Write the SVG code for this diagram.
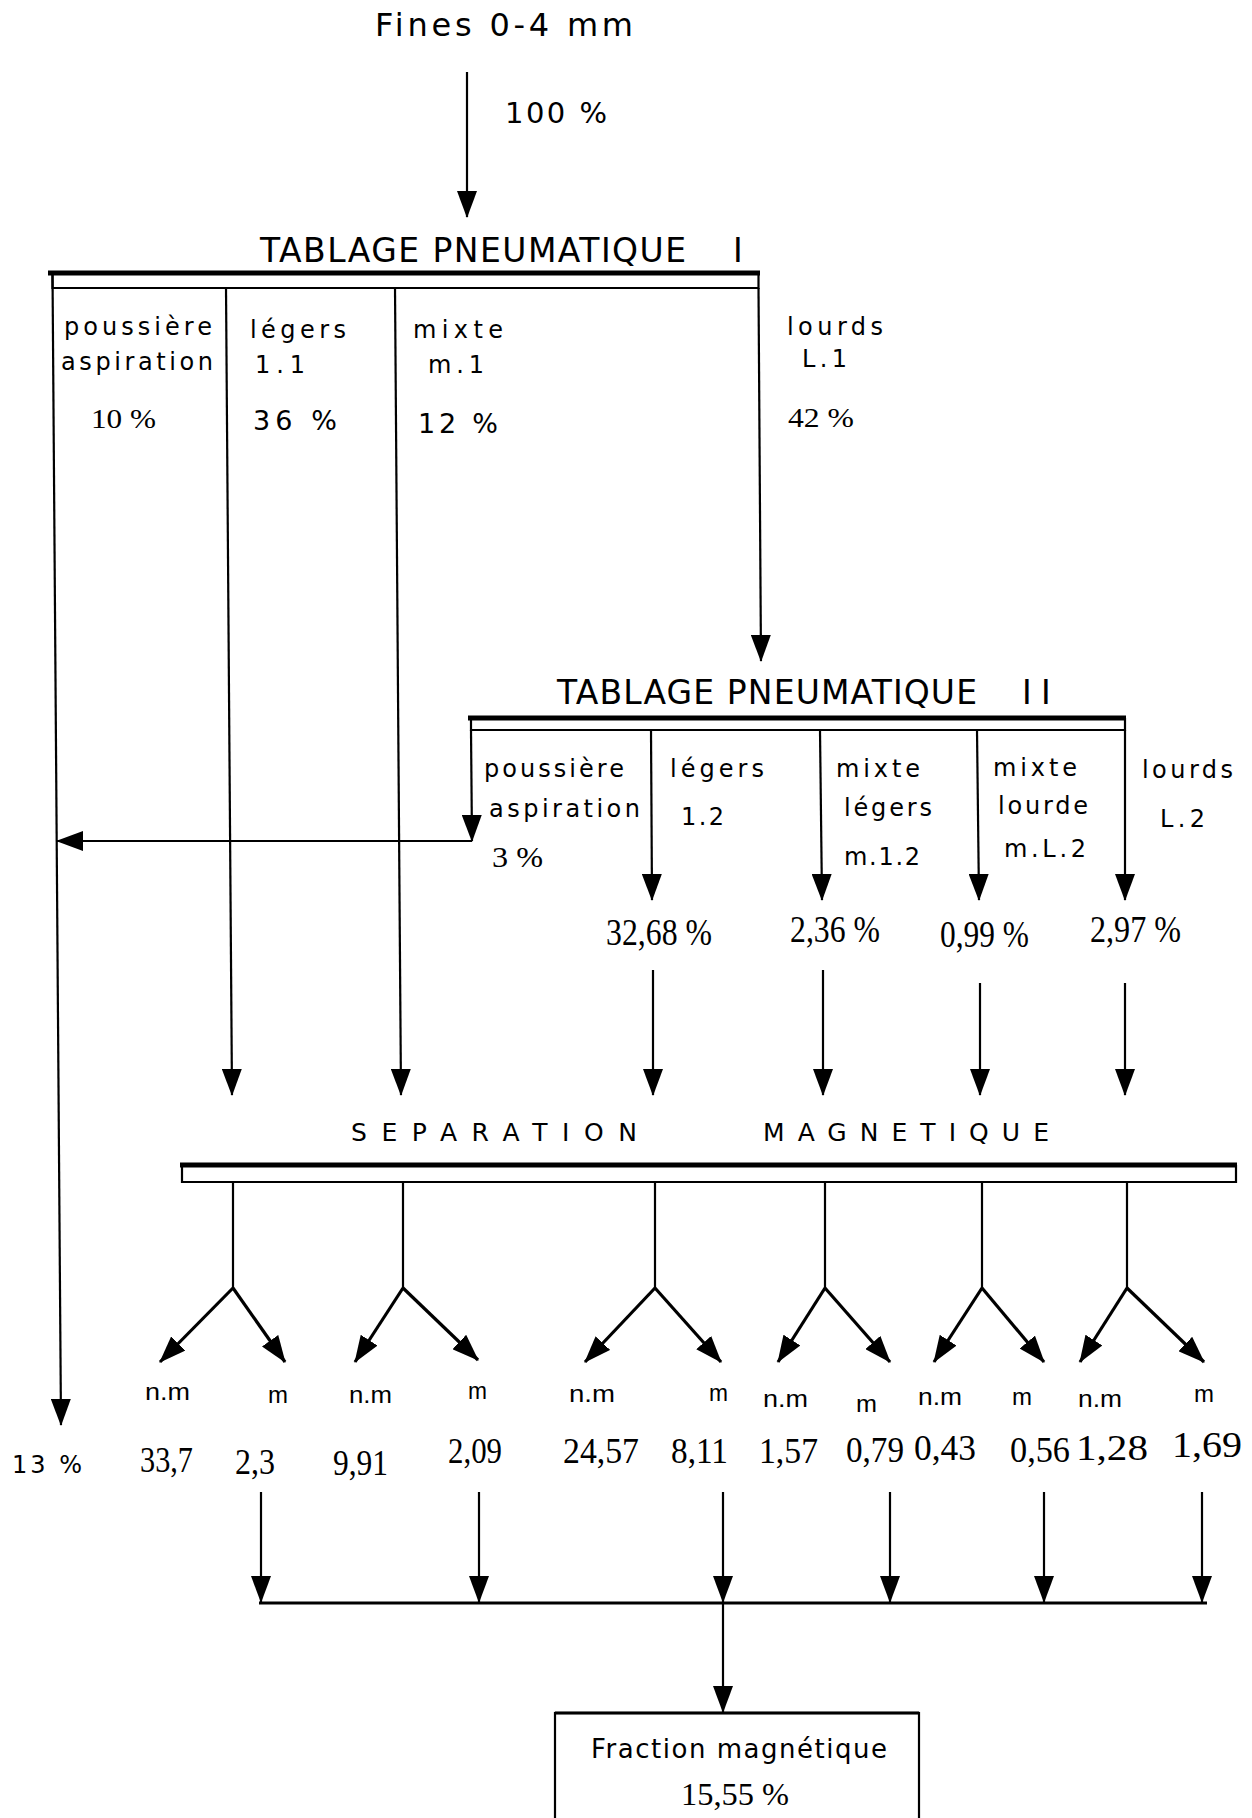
<svg xmlns="http://www.w3.org/2000/svg" width="1252" height="1818" viewBox="0 0 1252 1818">
<style>
.pl{font-family:"DejaVu Sans","Liberation Sans",sans-serif;fill:#000}
.sf{font-family:"Liberation Serif","Times New Roman",serif;fill:#000}
.ss{font-family:"Liberation Sans",Arial,sans-serif;fill:#000}
.ln{stroke:#000;stroke-width:2.2;fill:none}
.th{stroke:#000;stroke-width:5;fill:none}
.fk{stroke:#000;stroke-width:3.2;fill:none}
.a{marker-end:url(#ah)}
</style>
<defs>
<marker id="ah" markerUnits="userSpaceOnUse" viewBox="0 0 27 20" markerWidth="27" markerHeight="20" refX="26" refY="10" orient="auto">
<path d="M0,0 L27,10 L0,20 Z" fill="#000"/>
</marker>
</defs>
<rect width="1252" height="1818" fill="#fff"/>

<g id="node-fines">
<text class="pl" x="375" y="36" font-size="32" textLength="258" lengthAdjust="spacing">Fines 0-4 mm</text>
</g>

<g id="node-tp1">
<text class="pl" font-size="33"><tspan x="260" y="262" textLength="426" lengthAdjust="spacing">TABLAGE PNEUMATIQUE</tspan><tspan x="733" y="262">I</tspan></text>
<line class="th" x1="48" y1="273" x2="760" y2="273"/>
<path class="ln" d="M52.5,273 V288 H758.5 V273"/>
</g>

<g id="node-tp2">
<text class="pl" font-size="33"><tspan x="557" y="704" textLength="420" lengthAdjust="spacing">TABLAGE PNEUMATIQUE</tspan><tspan x="1022" y="704">I</tspan><tspan x="1041" y="704">I</tspan></text>
<line class="th" x1="468" y1="718" x2="1126" y2="718"/>
<path class="ln" d="M471,718 V730 H1125 V718"/>
</g>

<g id="node-sep">
<text class="pl" x="351" y="1141" font-size="25" textLength="286" lengthAdjust="spacing">SEPARATION</text>
<text class="pl" x="763" y="1141" font-size="25" textLength="286" lengthAdjust="spacing">MAGNETIQUE</text>
<line class="th" x1="180" y1="1165" x2="1237" y2="1165"/>
<path class="ln" d="M182,1165 V1182 H1236 V1165"/>
</g>

<g id="node-result">
<rect x="555" y="1713" width="364" height="130" fill="none" stroke="#000" stroke-width="2.2"/>
<line class="fk" x1="555" y1="1713" x2="919" y2="1713"/>
<text class="pl" x="591" y="1758" font-size="26" textLength="296" lengthAdjust="spacing">Fraction magnétique</text>
<text class="sf" x="681" y="1805" font-size="31" textLength="108" lengthAdjust="spacingAndGlyphs">15,55 %</text>
</g>

<g id="labels-tp1">
<text class="pl" x="505" y="123" font-size="29" textLength="102" lengthAdjust="spacing">100 %</text>
<text class="pl" x="64" y="335" font-size="24" textLength="148" lengthAdjust="spacing">poussière</text>
<text class="pl" x="61" y="370" font-size="24" textLength="152" lengthAdjust="spacing">aspiration</text>
<text class="sf" x="91" y="428" font-size="28" textLength="65" lengthAdjust="spacingAndGlyphs">10 %</text>
<text class="pl" x="250" y="338" font-size="24" textLength="96" lengthAdjust="spacing">légers</text>
<text class="pl" x="255" y="373" font-size="24" textLength="50" lengthAdjust="spacing">1.1</text>
<text class="pl" x="253" y="430" font-size="27" textLength="84" lengthAdjust="spacing">36 %</text>
<text class="pl" x="413" y="338" font-size="24" textLength="90" lengthAdjust="spacing">mixte</text>
<text class="pl" x="428" y="373" font-size="24" textLength="56" lengthAdjust="spacing">m.1</text>
<text class="pl" x="418" y="433" font-size="27" textLength="80" lengthAdjust="spacing">12 %</text>
<text class="pl" x="787" y="335" font-size="24" textLength="96" lengthAdjust="spacing">lourds</text>
<text class="pl" x="802" y="367" font-size="24" textLength="45" lengthAdjust="spacing">L.1</text>
<text class="sf" x="788" y="427" font-size="28" textLength="66" lengthAdjust="spacingAndGlyphs">42 %</text>
</g>

<g id="labels-tp2">
<text class="pl" x="484" y="777" font-size="24" textLength="140" lengthAdjust="spacing">poussière</text>
<text class="pl" x="489" y="817" font-size="24" textLength="151" lengthAdjust="spacing">aspiration</text>
<text class="sf" x="492" y="867" font-size="30" textLength="51" lengthAdjust="spacingAndGlyphs">3 %</text>
<text class="pl" x="670" y="777" font-size="24" textLength="94" lengthAdjust="spacing">légers</text>
<text class="pl" x="681" y="825" font-size="24" textLength="43" lengthAdjust="spacing">1.2</text>
<text class="pl" x="836" y="777" font-size="24" textLength="84" lengthAdjust="spacing">mixte</text>
<text class="pl" x="844" y="816" font-size="24" textLength="88" lengthAdjust="spacing">légers</text>
<text class="pl" x="844" y="865" font-size="24" textLength="76" lengthAdjust="spacing">m.1.2</text>
<text class="pl" x="993" y="776" font-size="24" textLength="84" lengthAdjust="spacing">mixte</text>
<text class="pl" x="998" y="814" font-size="24" textLength="90" lengthAdjust="spacing">lourde</text>
<text class="pl" x="1004" y="857" font-size="24" textLength="82" lengthAdjust="spacing">m.L.2</text>
<text class="pl" x="1142" y="778" font-size="24" textLength="91" lengthAdjust="spacing">lourds</text>
<text class="pl" x="1160" y="827" font-size="24" textLength="45" lengthAdjust="spacing">L.2</text>
<text class="sf" x="606" y="945" font-size="37" textLength="106" lengthAdjust="spacingAndGlyphs">32,68 %</text>
<text class="sf" x="790" y="942" font-size="37" textLength="90" lengthAdjust="spacingAndGlyphs">2,36 %</text>
<text class="sf" x="940" y="947" font-size="37" textLength="89" lengthAdjust="spacingAndGlyphs">0,99 %</text>
<text class="sf" x="1090" y="942" font-size="37" textLength="91" lengthAdjust="spacingAndGlyphs">2,97 %</text>
</g>

<g id="labels-sep">
<text class="ss" x="145" y="1400" font-size="24" textLength="45" lengthAdjust="spacingAndGlyphs">n.m</text>
<text class="ss" x="268" y="1403" font-size="24" textLength="20" lengthAdjust="spacingAndGlyphs">m</text>
<text class="ss" x="349" y="1403" font-size="24" textLength="43" lengthAdjust="spacingAndGlyphs">n.m</text>
<text class="ss" x="468" y="1399" font-size="24" textLength="19" lengthAdjust="spacingAndGlyphs">m</text>
<text class="ss" x="569" y="1402" font-size="24" textLength="46" lengthAdjust="spacingAndGlyphs">n.m</text>
<text class="ss" x="709" y="1401" font-size="24" textLength="19" lengthAdjust="spacingAndGlyphs">m</text>
<text class="ss" x="763" y="1407" font-size="24" textLength="45" lengthAdjust="spacingAndGlyphs">n.m</text>
<text class="ss" x="856" y="1412" font-size="24" textLength="21" lengthAdjust="spacingAndGlyphs">m</text>
<text class="ss" x="918" y="1405" font-size="24" textLength="44" lengthAdjust="spacingAndGlyphs">n.m</text>
<text class="ss" x="1012" y="1405" font-size="24" textLength="20" lengthAdjust="spacingAndGlyphs">m</text>
<text class="ss" x="1078" y="1407" font-size="24" textLength="44" lengthAdjust="spacingAndGlyphs">n.m</text>
<text class="ss" x="1194" y="1402" font-size="24" textLength="20" lengthAdjust="spacingAndGlyphs">m</text>
<text class="pl" x="12" y="1473" font-size="24" textLength="70" lengthAdjust="spacing">13 %</text>
<text class="sf" x="140" y="1472" font-size="36" textLength="53" lengthAdjust="spacingAndGlyphs">33,7</text>
<text class="sf" x="235" y="1474" font-size="36" textLength="40" lengthAdjust="spacingAndGlyphs">2,3</text>
<text class="sf" x="333" y="1475" font-size="36" textLength="55" lengthAdjust="spacingAndGlyphs">9,91</text>
<text class="sf" x="448" y="1463" font-size="36" textLength="54" lengthAdjust="spacingAndGlyphs">2,09</text>
<text class="sf" x="563" y="1463" font-size="36" textLength="76" lengthAdjust="spacingAndGlyphs">24,57</text>
<text class="sf" x="671" y="1463" font-size="36" textLength="57" lengthAdjust="spacingAndGlyphs">8,11</text>
<text class="sf" x="759" y="1463" font-size="36" textLength="59" lengthAdjust="spacingAndGlyphs">1,57</text>
<text class="sf" x="846" y="1462" font-size="36" textLength="58" lengthAdjust="spacingAndGlyphs">0,79</text>
<text class="sf" x="914" y="1460" font-size="36" textLength="62" lengthAdjust="spacingAndGlyphs">0,43</text>
<text class="sf" x="1010" y="1462" font-size="36" textLength="60" lengthAdjust="spacingAndGlyphs">0,56</text>
<text class="sf" x="1076" y="1460" font-size="36" textLength="72" lengthAdjust="spacingAndGlyphs">1,28</text>
<text class="sf" x="1172" y="1457" font-size="36" textLength="70" lengthAdjust="spacingAndGlyphs">1,69</text>
</g>

<g id="connectors">
<line class="ln a" x1="467" y1="72" x2="467" y2="217"/>
<line class="ln a" x1="52.5" y1="273" x2="61" y2="1425"/>
<line class="ln a" x1="226" y1="288" x2="232" y2="1095"/>
<line class="ln a" x1="395" y1="288" x2="401" y2="1095"/>
<line class="ln a" x1="758.5" y1="288" x2="761" y2="661"/>
<line class="ln a" x1="471" y1="730" x2="472" y2="841"/>
<line class="ln a" x1="472" y1="841" x2="57" y2="841" stroke-width="2.7"/>
<line class="ln a" x1="651" y1="730" x2="652" y2="900"/>
<line class="ln a" x1="820" y1="730" x2="822" y2="900"/>
<line class="ln a" x1="977" y1="730" x2="979" y2="900"/>
<line class="ln a" x1="1125" y1="730" x2="1125" y2="900"/>
<line class="ln a" x1="653" y1="970" x2="653" y2="1095"/>
<line class="ln a" x1="823" y1="970" x2="823" y2="1095"/>
<line class="ln a" x1="980" y1="983" x2="980" y2="1095"/>
<line class="ln a" x1="1125" y1="983" x2="1125" y2="1095"/>
<path class="ln" d="M233,1182 V1288 M403,1182 V1288 M655,1182 V1288 M825,1182 V1288 M982,1182 V1288 M1127,1182 V1288"/>
<line class="fk a" x1="233" y1="1288" x2="160" y2="1362"/>
<line class="fk a" x1="233" y1="1288" x2="285" y2="1362"/>
<line class="fk a" x1="403" y1="1288" x2="355" y2="1362"/>
<line class="fk a" x1="403" y1="1288" x2="478" y2="1360"/>
<line class="fk a" x1="655" y1="1288" x2="585" y2="1362"/>
<line class="fk a" x1="655" y1="1288" x2="721" y2="1362"/>
<line class="fk a" x1="825" y1="1288" x2="778" y2="1362"/>
<line class="fk a" x1="825" y1="1288" x2="890" y2="1362"/>
<line class="fk a" x1="982" y1="1288" x2="934" y2="1362"/>
<line class="fk a" x1="982" y1="1288" x2="1044" y2="1362"/>
<line class="fk a" x1="1127" y1="1288" x2="1080" y2="1362"/>
<line class="fk a" x1="1127" y1="1288" x2="1204" y2="1362"/>
<line class="ln a" x1="261" y1="1492" x2="261" y2="1602"/>
<line class="ln a" x1="479" y1="1492" x2="479" y2="1602"/>
<line class="ln a" x1="723" y1="1492" x2="723" y2="1602"/>
<line class="ln a" x1="890" y1="1492" x2="890" y2="1602"/>
<line class="ln a" x1="1044" y1="1492" x2="1044" y2="1602"/>
<line class="ln a" x1="1202" y1="1492" x2="1202" y2="1602"/>
<line class="fk" x1="259" y1="1603" x2="1207" y2="1603"/>
<line class="ln a" x1="723" y1="1603" x2="723" y2="1712"/>
</g>
</svg>
